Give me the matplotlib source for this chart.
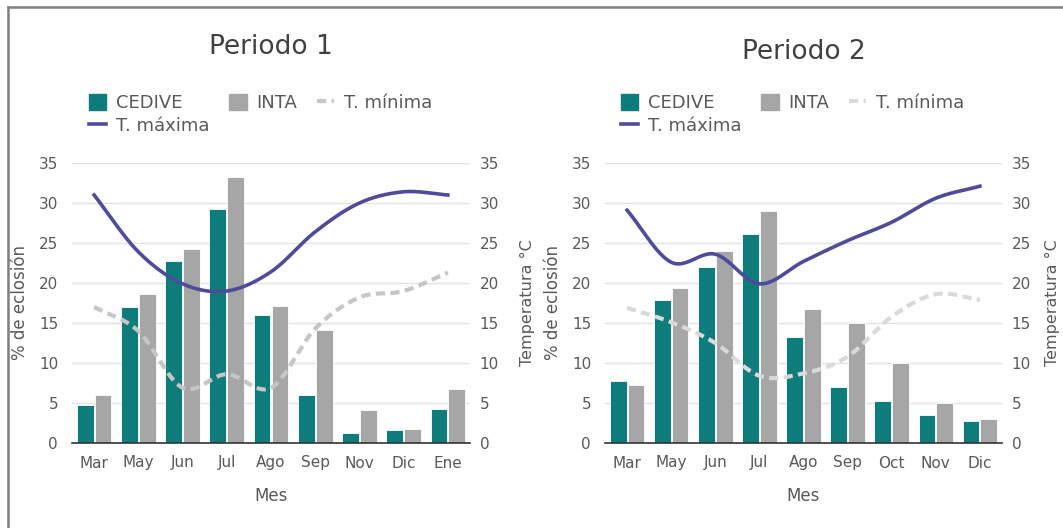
import numpy as np
import matplotlib.pyplot as plt
from matplotlib.lines import Line2D
from matplotlib.patches import Patch

# Periodo 1
meses1 = ["Mar", "May", "Jun", "Jul", "Ago", "Sep", "Nov", "Dic", "Ene"]
cedive1 = [4.7, 17.0, 22.7, 29.3, 16.0, 6.0, 1.3, 1.6, 4.2]
inta1 = [6.0, 18.6, 24.2, 33.3, 17.1, 14.1, 4.1, 1.8, 6.7]
tmax1 = [31.0, 23.9, 19.9, 19.0, 21.4, 26.4, 30.0, 31.4, 31.0]
tmin1 = [17.0, 14.0, 6.9, 8.6, 6.9, 14.3, 18.2, 19.0, 21.3]

# Periodo 2
meses2 = ["Mar", "May", "Jun", "Jul", "Ago", "Sep", "Oct", "Nov", "Dic"]
cedive2 = [7.8, 17.9, 22.0, 26.1, 13.2, 7.0, 5.2, 3.5, 2.7]
inta2 = [7.3, 19.4, 24.0, 29.0, 16.7, 15.0, 10.0, 5.0, 3.0]
tmax2 = [29.1, 22.6, 23.6, 19.9, 22.7, 25.3, 27.6, 30.6, 32.1]
tmin2 = [16.9, 15.1, 12.5, 8.4, 8.7, 10.8, 15.8, 18.6, 17.9]

TEAL = "#0d7c7b"
GRIS = "#a6a6a6"
MAXC = "#4e4b9b"
TXT = "#595959"

W, H = 1063, 528


def suave(y, n=24):
    # curva suavizada tipo Excel (Catmull-Rom) que pasa por los puntos
    y = np.asarray(y, float)
    p = np.concatenate([[2 * y[0] - y[1]], y, [2 * y[-1] - y[-2]]])
    xs, ys = [], []
    for i in range(len(y) - 1):
        t = np.linspace(0, 1, n, endpoint=False)
        p0, p1, p2, p3 = p[i], p[i + 1], p[i + 2], p[i + 3]
        yy = 0.5 * (2 * p1 + (-p0 + p2) * t + (2 * p0 - 5 * p1 + 4 * p2 - p3) * t ** 2
                    + (-p0 + 3 * p1 - 3 * p2 + p3) * t ** 3)
        xs.append(i + t)
        ys.append(yy)
    xs.append([len(y) - 1])
    ys.append([y[-1]])
    return np.concatenate(xs), np.concatenate(ys)


def grafico(fig, rect, meses, cedive, inta, tmax, tmin, titulo, tit_y, minc, leg_xy, temp_dx):
    ax = fig.add_axes(rect)
    x = np.arange(len(meses))
    w = 0.38
    ax.bar(x - w / 2 - 0.012, cedive, w, color=TEAL, edgecolor="white", linewidth=0.6, zorder=2)
    ax.bar(x + w / 2 + 0.012, inta, w, color=GRIS, edgecolor="white", linewidth=0.6, zorder=2)
    ax.set_xlim(-0.5, len(meses) - 0.5)
    ax.set_ylim(0, 35)
    ax.set_yticks(range(0, 36, 5))
    ax.set_xticks(x)
    ax.set_xticklabels(meses)
    ax.grid(axis="y", color="#e2e2e2", linewidth=1, zorder=0)
    ax.set_axisbelow(True)
    for s in ["top", "left", "right"]:
        ax.spines[s].set_visible(False)
    ax.spines["bottom"].set_color("#333333")
    ax.spines["bottom"].set_linewidth(1.2)
    ax.tick_params(axis="y", length=0, labelsize=11, colors=TXT, pad=10)
    ax.tick_params(axis="x", length=0, labelsize=11, colors=TXT, pad=9)

    tw = ax.twinx()
    tw.set_ylim(0, 35)
    tw.set_yticks(range(0, 36, 5))
    for s in tw.spines.values():
        s.set_visible(False)
    tw.tick_params(axis="y", length=0, labelsize=11, colors=TXT, pad=7)
    xs, ys = suave(tmin)
    tw.plot(xs, ys, color=minc, linewidth=3, dashes=(2.2, 1.3), zorder=3)
    xs, ys = suave(tmax)
    tw.plot(xs, ys, color=MAXC, linewidth=2.6, zorder=4)

    l, b, wd, ht = rect
    cx = l + wd / 2
    fig.text(cx, tit_y, titulo, ha="center", va="center", fontsize=19, color="#404040")
    fig.text(cx, 1 - 496 / H, "Mes", ha="center", va="center", fontsize=12, color=TXT)
    fig.text(l - 52 / W, b + ht / 2, "% de eclosión", rotation=90, ha="center", va="center",
             fontsize=12, color=TXT)
    fig.text(l + wd + temp_dx / W, b + ht / 2, "Temperatura °C", rotation=90, ha="center",
             va="center", fontsize=11.5, color=TXT)

    handles = [Patch(color=TEAL), Line2D([], [], color=MAXC, linewidth=2.6),
               Patch(color=GRIS), Line2D([], [], color=minc, linewidth=3, dashes=(2.2, 1.3))]
    labels = ["CEDIVE", "T. máxima", "INTA", "T. mínima"]
    ax.legend(handles, labels, ncol=3, loc="upper left", bbox_to_anchor=leg_xy,
              bbox_transform=fig.transFigure, frameon=False, fontsize=13,
              handlelength=0.95, handleheight=0.95, handletextpad=0.55,
              labelspacing=0.25, columnspacing=1.1, borderpad=0, borderaxespad=0,
              labelcolor=TXT)
    return ax


fig = plt.figure(figsize=(W / 100, H / 100), dpi=100)

grafico(fig, [72 / W, 85 / H, 398 / W, 280 / H], meses1, cedive1, inta1, tmax1, tmin1,
        "Periodo 1", 1 - 47 / H, "#c6c6c6", (89 / W, 1 - 94 / H), 57)
grafico(fig, [605 / W, 85 / H, 397 / W, 280 / H], meses2, cedive2, inta2, tmax2, tmin2,
        "Periodo 2", 1 - 52 / H, "#d9d9d9", (621 / W, 1 - 94 / H), 50)

# marco gris
fig.add_artist(Line2D([8 / W, 1], [1 - 7 / H, 1 - 7 / H], color="#808080", linewidth=1.8))
fig.add_artist(Line2D([8 / W, 8 / W], [0, 1 - 7 / H], color="#808080", linewidth=1.8))

fig.savefig("out.png", dpi=100)
